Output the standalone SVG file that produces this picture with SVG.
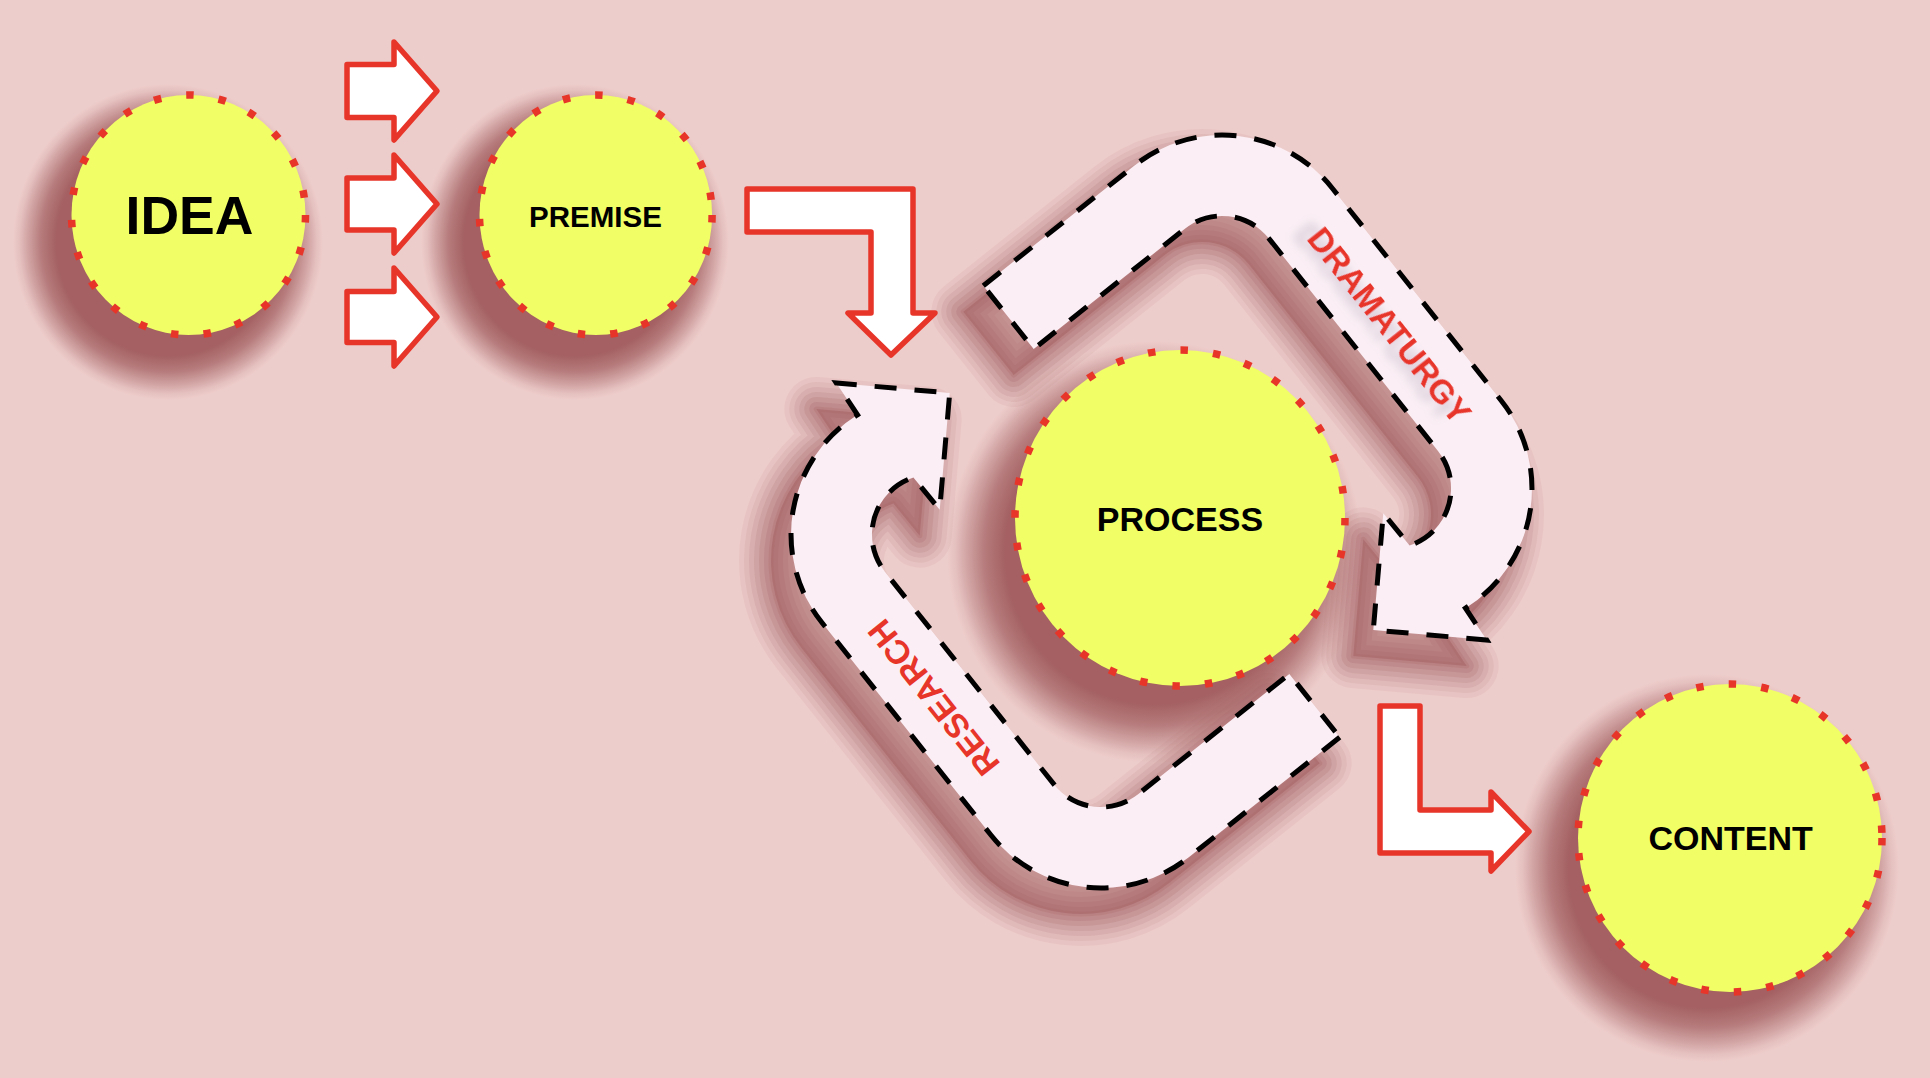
<svg xmlns="http://www.w3.org/2000/svg" xmlns:xlink="http://www.w3.org/1999/xlink" width="1930" height="1078" viewBox="0 0 1930 1078">
  <style>
    .node { fill: #F1FE66; stroke: #E8352A; stroke-width: 7.5; stroke-dasharray: 7.5 25.2; }
    .ntxt { font-family: "Liberation Sans", Arial, sans-serif; font-weight: bold; fill: #000; text-anchor: middle; }
    .blk { fill: #FFFFFF; stroke: #E8352A; stroke-width: 5.5; stroke-linejoin: round; }
    .band { fill: #FBEFF5; stroke: #000; stroke-width: 5; stroke-dasharray: 22 18; stroke-linejoin: miter; }
    .lbl { font-family: "Liberation Sans", Arial, sans-serif; font-weight: bold; font-size: 33.5px; fill: #E8352A; text-anchor: middle; }
    .cshd { fill: url(#rg); }
    .bs { fill: none; stroke: #A46062; stroke-linejoin: round; }
    .bs1 { stroke-width: 64; opacity: 0.08; }
    .bs2 { stroke-width: 54; opacity: 0.1; }
    .bs3 { stroke-width: 44; opacity: 0.12; }
    .bs4 { stroke-width: 34; opacity: 0.15; }
    .bs5 { stroke-width: 24; opacity: 0.18; }
    .bs6 { stroke-width: 14; opacity: 0.2; }
    .bs7 { stroke-width: 5; opacity: 0.22; }
    .bsf { fill: #A46062; opacity: 0.5; }
  </style>
  <defs>
    <radialGradient id="rg">
      <stop offset="0" stop-color="#A46062" stop-opacity="1"/>
      <stop offset="0.72" stop-color="#A46062" stop-opacity="1"/>
      <stop offset="0.82" stop-color="#A46062" stop-opacity="0.75"/>
      <stop offset="0.9" stop-color="#A46062" stop-opacity="0.4"/>
      <stop offset="0.96" stop-color="#A46062" stop-opacity="0.12"/>
      <stop offset="1" stop-color="#A46062" stop-opacity="0"/>
    </radialGradient>
    <filter id="tsh" x="-30%" y="-60%" width="160%" height="220%">
      <feGaussianBlur in="SourceAlpha" stdDeviation="5"/>
      <feOffset dx="-11" dy="8" result="b"/>
      <feFlood flood-color="#8c7f99" flood-opacity="0.4"/>
      <feComposite in2="b" operator="in"/>
      <feMerge><feMergeNode/><feMergeNode in="SourceGraphic"/></feMerge>
    </filter>
    <path id="bandShape" d="M 983.3,285.7 L 1134.2,165.7 A 141 141 0 0 1 1332.3,188.2 L 1501.3,400.7 A 141 141 0 0 1 1465.5,608.2 L 1486.7,640 L 1373.3,630 L 1383.3,513.3 L 1409.6,545.5 A 60 60 0 0 0 1438,451.1 L 1269,238.6 A 60 60 0 0 0 1184.6,229 L 1033.7,349 Z"/>
    <g id="bandShadow">
      <use xlink:href="#bandShape" href="#bandShape" class="bs bs1"/>
      <use xlink:href="#bandShape" href="#bandShape" class="bs bs2"/>
      <use xlink:href="#bandShape" href="#bandShape" class="bs bs3"/>
      <use xlink:href="#bandShape" href="#bandShape" class="bs bs4"/>
      <use xlink:href="#bandShape" href="#bandShape" class="bs bs5"/>
      <use xlink:href="#bandShape" href="#bandShape" class="bs bs6"/>
      <use xlink:href="#bandShape" href="#bandShape" class="bs bs7"/>
      <use xlink:href="#bandShape" href="#bandShape" class="bsf"/>
    </g>
  </defs>

  <rect x="0" y="0" width="1930" height="1078" fill="#EDCDCB"/>

  <g id="shadows">
    <ellipse class="cshd" cx="168" cy="242" rx="155" ry="158"/>
    <ellipse class="cshd" cx="575" cy="242" rx="154" ry="158"/>
    <ellipse class="cshd" cx="1155" cy="552" rx="208" ry="211"/>
    <ellipse class="cshd" cx="1707" cy="868" rx="192" ry="194"/>
    <use xlink:href="#bandShadow" href="#bandShadow" transform="translate(-20,26)"/>
    <use xlink:href="#bandShadow" href="#bandShadow" transform="translate(-20,26) rotate(180 1161.5 511.5)"/>
  </g>

  <g id="connectors">
    <g id="arrow-idea-premise-1">
      <polygon class="blk" points="347,64.5 394,64.5 394,42 437,91 394,140 394,117.5 347,117.5"/>
    </g>
    <g id="arrow-idea-premise-2">
      <polygon class="blk" points="347,178 394,178 394,155 437,204 394,253 394,230 347,230"/>
    </g>
    <g id="arrow-idea-premise-3">
      <polygon class="blk" points="347,291.5 394,291.5 394,268 437,317 394,366 394,342.5 347,342.5"/>
    </g>
    <g id="arrow-premise-process">
      <polygon class="blk" points="747,189 913,189 913,313 935,313 891,355 848,313 871,313 871,232 747,232"/>
    </g>
    <g id="arrow-process-content">
      <polygon class="blk" points="1380,706 1420,706 1420,810 1491,810 1491,792 1529,831.5 1491,871 1491,853 1380,853"/>
    </g>
    <g id="loop-dramaturgy">
      <use xlink:href="#bandShape" href="#bandShape" class="band"/>
      <text class="lbl" filter="url(#tsh)" transform="translate(1389.7,325.2) rotate(51.5)" y="12">DRAMATURGY</text>
    </g>
    <g id="loop-research">
      <g transform="rotate(180 1161.5 511.5)">
        <use xlink:href="#bandShape" href="#bandShape" class="band"/>
        <text class="lbl" transform="translate(1389.7,325.2) rotate(51.5)" y="12">RESEARCH</text>
      </g>
    </g>
  </g>

  <g id="node-idea">
    <ellipse class="node" cx="188.5" cy="215" rx="117" ry="120"/>
    <text class="ntxt" x="189.5" y="234" font-size="53.5">IDEA</text>
  </g>
  <g id="node-premise">
    <ellipse class="node" cx="595.8" cy="215" rx="116.3" ry="120"/>
    <text class="ntxt" x="595.5" y="226.7" font-size="29.5">PREMISE</text>
  </g>
  <g id="node-process">
    <ellipse class="node" cx="1180" cy="518" rx="165" ry="168"/>
    <text class="ntxt" x="1180" y="531" font-size="34">PROCESS</text>
  </g>
  <g id="node-content">
    <ellipse class="node" cx="1730" cy="838" rx="152" ry="154"/>
    <text class="ntxt" x="1730.7" y="850" font-size="34">CONTENT</text>
  </g>
</svg>
